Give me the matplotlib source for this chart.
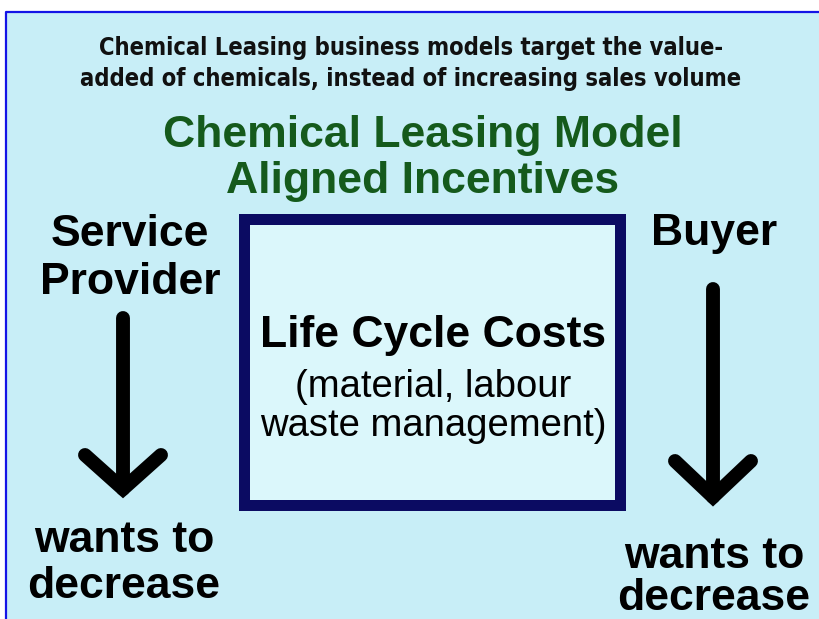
import matplotlib.pyplot as plt
from matplotlib.patches import Rectangle

# diagram texts
header_lines = ["Chemical Leasing business models target the value-",
                "added of chemicals, instead of increasing sales volume"]
title_lines = ["Chemical Leasing Model", "Aligned Incentives"]
left_label = ["Service", "Provider"]
right_label = ["Buyer"]
box_title = "Life Cycle Costs"
box_lines = ["(material, labour", "waste management)"]
bottom_label = ["wants to", "decrease"]

W, H = 819, 619
bg = '#c8eef7'
box_bg = '#dbf7fb'
navy = '#0b0b62'
green = '#155a1c'

fig = plt.figure(figsize=(W / 100, H / 100), dpi=100)
ax = fig.add_axes([0, 0, 1, 1])
ax.set_xlim(0, W)
ax.set_ylim(H, 0)
ax.axis('off')
fig.patch.set_facecolor('white')

# page background with blue frame on top / left
ax.add_patch(Rectangle((6, 12), W, H, facecolor=bg, edgecolor='none', zorder=0))
ax.plot([6, 6, W], [H, 12, 12], color='#1414e6', lw=1.6, zorder=1)

arial = ['Liberation Sans', 'DejaVu Sans']

for i, s in enumerate(header_lines):
    ax.text(411, 48 + 31 * i, s, ha='center', va='center', fontsize=17,
            family='DejaVu Sans', stretch='condensed', weight='bold', color='#111111')

for i, s in enumerate(title_lines):
    ax.text(423, 135 + 47 * i, s, ha='center', va='center', fontsize=32,
            family=arial, weight='bold', color=green)

for i, s in enumerate(left_label):
    ax.text(130, 235 + 48 * i, s, ha='center', va='center', fontsize=32,
            family=arial, weight='bold', color='black')
for i, s in enumerate(right_label):
    ax.text(714, 234, s, ha='center', va='center', fontsize=32,
            family=arial, weight='bold', color='black')

# central box
bw = 11
ax.add_patch(Rectangle((238 + bw / 2, 213 + bw / 2), 387 - bw, 297 - bw,
                       facecolor=box_bg, edgecolor=navy, lw=bw * 0.72, zorder=2))
ax.text(433, 335, box_title, ha='center', va='center', fontsize=32,
        family=arial, weight='bold', color='black', zorder=3)
for i, s in enumerate(box_lines):
    ax.text(433, 387 + 39 * i, s, ha='center', va='center', fontsize=27.5,
            family=arial, color='black', zorder=3)

# arrows
def down_arrow(x, top, tip, half, head):
    kw = dict(color='black', lw=10, solid_capstyle='round', solid_joinstyle='miter', zorder=3)
    ax.plot([x, x], [top, tip - 4], **kw)
    ax.plot([x - half, x, x + half], [tip - head, tip - 4, tip - head], **kw)

down_arrow(123, 318, 493, 38, 38)
down_arrow(713, 289, 501, 38, 40)

for i, s in enumerate(bottom_label):
    ax.text(124, 540 + 46 * i, s, ha='center', va='center', fontsize=32,
            family=arial, weight='bold', color='black')
    ax.text(714, 557 + 42 * i, s, ha='center', va='center', fontsize=32,
            family=arial, weight='bold', color='black')

fig.savefig('out.png', dpi=100, facecolor='white')
